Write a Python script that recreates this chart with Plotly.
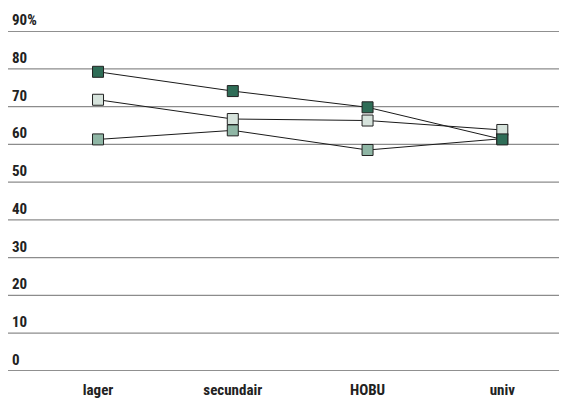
import plotly.graph_objects as go

categories = ["lager", "secundair", "HOBU", "univ"]
series_mid = [61.3, 63.7, 58.5, 61.5]
series_light = [71.8, 66.7, 66.3, 63.8]
series_dark = [79.2, 74.1, 69.8, 61.3]
y_ticks = [0, 10, 20, 30, 40, 50, 60, 70, 80, 90]
y_tick_labels = ["0", "10", "20", "30", "40", "50", "60", "70", "80", "90%"]

FONT = "Liberation Sans Narrow, Roboto Condensed, Arial Narrow, Roboto, sans-serif"

fig = go.Figure()
for vals, col in [(series_mid, "#8fb6a5"), (series_light, "#d6e3dc"), (series_dark, "#2f6d57")]:
    fig.add_trace(go.Scatter(
        x=categories, y=vals, mode="lines+markers",
        line=dict(color="#1a1a1a", width=1),
        marker=dict(symbol="square", size=11, color=col, line=dict(color="#222222", width=1)),
        showlegend=False, cliponaxis=False,
    ))

for v, lab in zip(y_ticks, y_tick_labels):
    dark = v in (0, 90)
    fig.add_shape(type="line", xref="paper", x0=0, x1=1, yref="y", y0=v, y1=v,
                  line=dict(color="#222222" if dark else "#8c8c8c", width=1.3 if not dark else 1.2),
                  layer="below")
    fig.add_annotation(x=0, xref="paper", y=v, yref="y", text="<b>%s</b>" % lab,
                       showarrow=False, xanchor="left", yanchor="bottom", xshift=2, yshift=0,
                       font=dict(family=FONT, size=15, color="#222222"))

# page body has an 8px margin; compensate so the chart lands where the reference has it
fig.update_layout(
    width=559, height=393,
    margin=dict(l=0, r=0, t=23, b=30, autoexpand=False),
    paper_bgcolor="white", plot_bgcolor="white",
    xaxis=dict(type="category", range=[-0.668, 3.48], showgrid=False, zeroline=False,
               showline=False, ticks="", ticklabelstandoff=8, automargin=False,
               tickfont=dict(family=FONT, size=15, color="#222222"),
               tickvals=categories, ticktext=["<b>%s</b>" % c for c in categories]),
    yaxis=dict(range=[0, 90], showgrid=False, zeroline=False, showticklabels=False,
               showline=False, automargin=False),
)

fig.write_html("out.html")
